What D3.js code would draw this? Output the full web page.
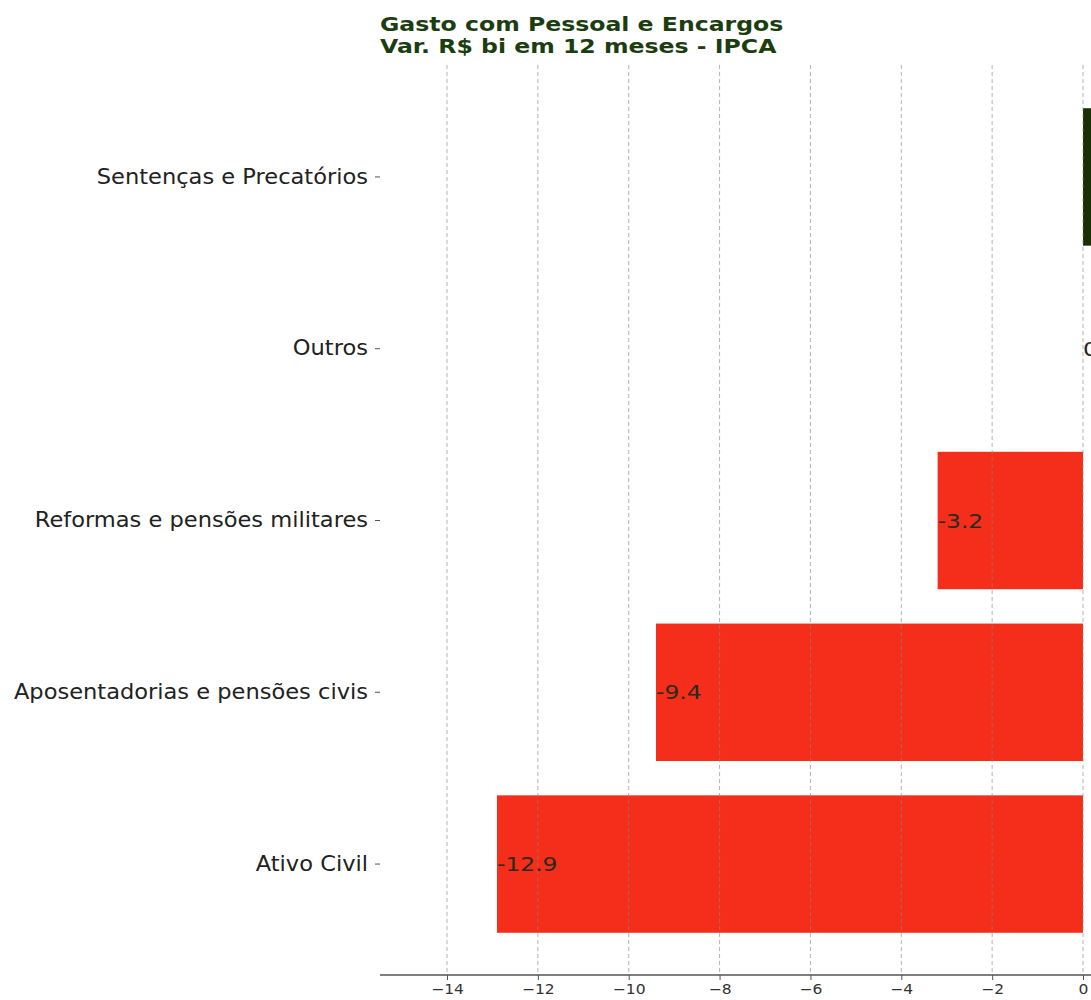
<!DOCTYPE html>
<html>
<head>
<meta charset="utf-8">
<script src="https://cdn.jsdelivr.net/npm/d3@7"></script>
<style>
  body { margin: 0; background: #fff; }
  svg { display: block; }
</style>
</head>
<body>
<svg id="chart" width="1091" height="1000"></svg>
<script>
const categories = ["Sentenças e Precatórios", "Outros", "Reformas e pensões militares", "Aposentadorias e pensões civis", "Ativo Civil"];
const values = [5.0, 0.0, -3.2, -9.4, -12.9];
const xTicks = [-14, -12, -10, -8, -6, -4, -2, 0];
const titleLines = ["Gasto com Pessoal e Encargos", "Var. R$ bi em 12 meses - IPCA"];

const svg = d3.select("#chart");
const plotLeft = 380, zeroX = 1083, plotTop = 67, plotBottom = 974;
const pxPerUnit = (zeroX - 447) / 14;
const xMin = -15.47, xMax = 6;
const SX = 1.1; // horizontal stretch of the reference's text

const x = d3.scaleLinear().domain([xMin, xMax]).range([zeroX + xMin * pxPerUnit, zeroX + xMax * pxPerUnit]);
const y = d3.scaleBand().domain(categories).range([plotTop, plotBottom]).paddingInner(0.2).paddingOuter(0.24);

// bars
svg.append("g").selectAll("rect").data(categories).join("rect")
  .attr("x", (d, i) => x(Math.min(0, values[i])))
  .attr("width", (d, i) => Math.abs(x(values[i]) - x(0)))
  .attr("y", d => y(d))
  .attr("height", y.bandwidth())
  .attr("fill", (d, i) => values[i] >= 0 ? "#173005" : "#f42e1a");

// grid (on top)
svg.append("g").selectAll("line").data(xTicks).join("line")
  .attr("x1", d => x(d)).attr("x2", d => x(d))
  .attr("y1", plotTop - 2).attr("y2", plotBottom)
  .attr("stroke", "#888").attr("stroke-opacity", 0.7)
  .attr("stroke-width", 0.9).attr("stroke-dasharray", "4,3");

// value labels
svg.append("g").selectAll("text").data(categories).join("text")
  .attr("transform", (d, i) => `translate(${x(values[i])},${y(d) + y.bandwidth() / 2}) scale(1.17,1)`)
  .attr("dy", "0.36em")
  .attr("font-family", "DejaVu Sans")
  .attr("font-size", 20)
  .attr("fill", "#2a2a1a")
  .text((d, i) => values[i].toFixed(1));

// x axis
const xAxis = d3.axisBottom(x).tickValues(xTicks).tickSize(5).tickPadding(4)
  .tickFormat(d => d < 0 ? "\u2212" + Math.abs(d) : String(d));
const gx = svg.append("g").attr("transform", `translate(0,${plotBottom + 1})`).call(xAxis);
gx.select(".domain").attr("stroke", "#555").attr("stroke-width", 1.5)
  .attr("d", `M${plotLeft},0H${x(xMax)}`);
gx.selectAll(".tick line").attr("stroke", "#555");
gx.selectAll(".tick text").attr("font-family", "DejaVu Sans").attr("font-size", 13.5).attr("fill", "#333")
  .attr("transform", "scale(1.15,1)");

// y axis (no spine)
const yAxis = d3.axisLeft(y).tickSize(5).tickPadding(6);
const gy = svg.append("g").attr("transform", `translate(${plotLeft},0)`).call(yAxis);
gy.select(".domain").remove();
gy.selectAll(".tick line").attr("stroke", "#555");
gy.selectAll(".tick text").attr("font-family", "DejaVu Sans").attr("font-size", 20.5).attr("fill", "#222")
  .attr("x", 0).attr("transform", `translate(-12,0) scale(${SX},1)`);

// title
svg.append("g").selectAll("text").data(titleLines).join("text")
  .attr("transform", (d, i) => `translate(${plotLeft},${31 + i * 22}) scale(1.21,1)`)
  .attr("font-family", "DejaVu Sans").attr("font-weight", "bold")
  .attr("font-size", 19.5).attr("fill", "#1b3d10")
  .text(d => d);
</script>
</body>
</html>
